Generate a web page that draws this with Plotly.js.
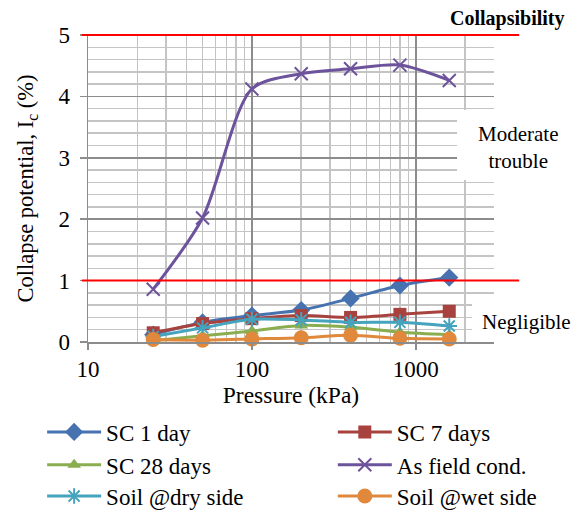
<!DOCTYPE html>
<html>
<head>
<meta charset="utf-8">
<script src="https://cdn.plot.ly/plotly-3.0.1.min.js"></script>
<style>html,body{margin:0;padding:0;background:#fff;}#chart{width:579px;height:511px;}</style>
</head>
<body>
<div id="chart"></div>
<script>
// Data
const pressure = [25, 50, 100, 200, 400, 800, 1600];
const sc1day = [0.12, 0.32, 0.43, 0.52, 0.71, 0.92, 1.05];
const sc7days = [0.15, 0.30, 0.38, 0.43, 0.40, 0.45, 0.50];
const sc28days = [0.02, 0.10, 0.18, 0.27, 0.24, 0.16, 0.12];
const asField = [0.86, 2.02, 4.12, 4.37, 4.45, 4.51, 4.26];
const soilDry = [0.09, 0.23, 0.37, 0.36, 0.32, 0.32, 0.26];
const soilWet = [0.04, 0.03, 0.05, 0.07, 0.11, 0.06, 0.05];
const seriesNames = ['SC 1 day', 'SC 7 days', 'SC 28 days', 'As field cond.', 'Soil @dry side', 'Soil @wet side'];
const thresholds = [1, 5];
const yMin = 0, yMax = 5;
const xTicks = [10, 100, 1000];

const colors = ['#4673b0', '#a8423f', '#8aae4f', '#6d539c', '#45a3bd', '#e0883b'];
const symbols = ['diamond', 'square', 'triangle-up', 'x-thin-open', 'asterisk-open', 'circle'];
const sizes = [14, 13, 12, 13, 13, 15];
const allY = [sc1day, sc7days, sc28days, asField, soilDry, soilWet];
const legendIds = ['legend', 'legend2', 'legend3', 'legend4', 'legend5', 'legend6'];
const legendCols = [-0.113, 0.603];
const legendRows = [-0.293, -0.400, -0.502];

const FONT = 'Liberation Serif, Times New Roman, serif';

const traces = allY.map((ys, i) => ({
  x: pressure, y: ys, name: seriesNames[i], type: 'scatter', mode: 'lines+markers',
  legend: legendIds[i],
  line: {color: colors[i], width: 3, shape: 'spline', smoothing: 0.8},
  marker: {symbol: symbols[i], size: sizes[i], color: colors[i],
           line: {color: colors[i], width: (symbols[i].indexOf('open') >= 0) ? 2 : 0}},
  cliponaxis: false
}));

const shapes = [
  {type: 'rect', xref: 'paper', yref: 'paper', x0: 0.946, x1: 1.25, y0: 0.0065, y1: 0.127,
   fillcolor: '#ffffff', line: {width: 0}, layer: 'above'},
  {type: 'rect', xref: 'paper', yref: 'paper', x0: 0.909, x1: 1.25, y0: 0.528, y1: 0.756,
   fillcolor: '#ffffff', line: {width: 0}, layer: 'above'}
];
thresholds.forEach(v => shapes.push({
  type: 'line', xref: 'paper', yref: 'paper', x0: -0.015, x1: 1.062,
  y0: (v - yMin) / (yMax - yMin), y1: (v - yMin) / (yMax - yMin),
  line: {color: '#ff0000', width: 2}, layer: 'above'
}));

const layout = {
  width: 579, height: 511,
  margin: {l: 88, r: 85, t: 35, b: 169, autoexpand: false},
  paper_bgcolor: '#ffffff', plot_bgcolor: '#ffffff',
  font: {family: FONT, color: '#000', size: 18},
  showlegend: true,
  xaxis: {
    type: 'log', range: [1, Math.log10(3000)],
    tickvals: xTicks, ticktext: xTicks.map(String),
    tickfont: {family: FONT, size: 23, color: '#000'},
    showgrid: true, gridcolor: '#8c8c8c', gridwidth: 1.5,
    minor: {dtick: 'D1', showgrid: true, gridcolor: '#c4c4c4', gridwidth: 1.5, ticks: ''},
    showline: true, linecolor: '#8c8c8c', linewidth: 1.5,
    ticks: 'outside', ticklen: 6, tickcolor: '#8c8c8c', tickwidth: 1.5,
    ticklabelstandoff: 0,
    zeroline: false,
    title: {text: 'Pressure (kPa)', font: {family: FONT, size: 23.5, color: '#000'}, standoff: 0}
  },
  yaxis: {
    range: [yMin, yMax], dtick: 1,
    tickfont: {family: FONT, size: 23, color: '#000'},
    showgrid: true, gridcolor: '#8c8c8c', gridwidth: 1.5,
    minor: {dtick: 0.2, showgrid: true, gridcolor: '#c4c4c4', gridwidth: 1.5, ticks: ''},
    showline: true, linecolor: '#8c8c8c', linewidth: 1.5,
    ticks: 'outside', ticklen: 7, tickcolor: '#8c8c8c', tickwidth: 1.5,
    ticklabelstandoff: 5,
    zeroline: false,
    title: {text: 'Collapse potential, I<sub>c</sub> (%)', font: {family: FONT, size: 22.5, color: '#000'}, standoff: 18}
  },
  shapes: shapes,
  annotations: [
    {xref: 'paper', yref: 'paper', x: 1.177, y: 1.055, xanchor: 'right', yanchor: 'middle',
     text: '<b>Collapsibility</b>', showarrow: false, font: {family: FONT, size: 20, color: '#000'}},
    {xref: 'paper', yref: 'paper', x: 1.059, y: 0.632, xanchor: 'center', yanchor: 'middle',
     text: 'Moderate<br>trouble', showarrow: false, font: {family: FONT, size: 21, color: '#000'}},
    {xref: 'paper', yref: 'paper', x: 1.081, y: 0.065, xanchor: 'center', yanchor: 'middle',
     text: 'Negligible', showarrow: false, font: {family: FONT, size: 21, color: '#000'}}
  ]
};

legendIds.forEach((id, i) => {
  layout[id] = {
    orientation: 'h', x: legendCols[i % 2], xanchor: 'left',
    y: legendRows[Math.floor(i / 2)], yanchor: 'middle',
    itemwidth: 54, font: {family: FONT, size: 23, color: '#000'},
    bgcolor: 'rgba(0,0,0,0)'
  };
});

Plotly.newPlot('chart', traces, layout, {displayModeBar: false, staticPlot: true});
</script>
</body>
</html>
